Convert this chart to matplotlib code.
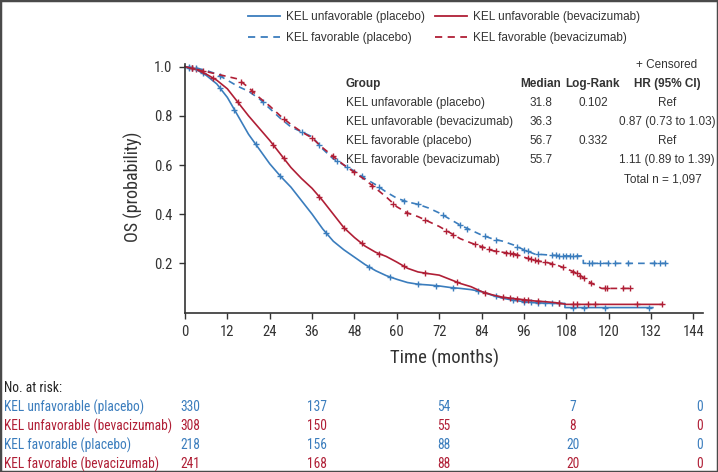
import matplotlib
matplotlib.use('Agg')
import matplotlib.pyplot as plt
import numpy as np
from matplotlib import font_manager
from matplotlib.lines import Line2D
from matplotlib.patches import Rectangle

# pick a condensed face for axis / risk-table text if one is installed
entries = font_manager.fontManager.ttflist
names = {f.name for f in entries}
SANS = 'Liberation Sans' if 'Liberation Sans' in names else 'DejaVu Sans'
NARROW = {'family': 'Roboto', 'stretch': 'normal'}
NARROW_SCALE = 0.9
for cand in ['Liberation Sans Narrow', 'Roboto Condensed', 'Open Sans Condensed']:
    if cand in names:
        NARROW = {'family': cand, 'stretch': 'normal'}
        NARROW_SCALE = 1.0
        break
else:
    if any(f.name == 'DejaVu Sans' and 'condensed' in str(f.stretch) for f in entries):
        NARROW = {'family': 'DejaVu Sans', 'stretch': 'condensed'}
        NARROW_SCALE = 0.9

BLUE = '#3b7dbd'
RED = '#b01f36'
INK = '#333333'

# --- data ---
groups = ['KEL unfavorable (placebo)', 'KEL unfavorable (bevacizumab)',
          'KEL favorable (placebo)', 'KEL favorable (bevacizumab)']

# KEL unfavorable (placebo)
t_up = [0, 3, 6, 9, 12, 15, 18, 21, 24, 27, 30, 33, 36, 39, 42, 45, 48, 51, 54, 57, 60,
        63, 66, 69, 72, 75, 78, 81, 84, 87, 90, 93, 96, 99, 102, 105, 107.6, 107.6, 132.5]
s_up = [1.0, 0.99, 0.965, 0.93, 0.875, 0.80, 0.725, 0.665, 0.605, 0.555, 0.51, 0.455, 0.40,
        0.34, 0.29, 0.255, 0.225, 0.195, 0.17, 0.15, 0.135, 0.122, 0.115, 0.112, 0.108, 0.102,
        0.098, 0.093, 0.085, 0.07, 0.058, 0.05, 0.044, 0.04, 0.038, 0.037, 0.037, 0.02, 0.02]
c_up = [1, 2, 5, 10, 14, 20, 27, 40, 52, 58, 66, 71, 76, 83, 88, 93, 96, 98, 100, 102, 104,
        106, 110, 113, 119, 131.5]

# KEL unfavorable (bevacizumab)
t_ub = [0, 3, 6, 9, 12, 15, 18, 21, 24, 27, 30, 33, 36, 39, 42, 45, 48, 51, 54, 57, 60,
        63, 66, 69, 72, 75, 78, 81, 84, 87, 90, 93, 96, 99, 102, 105, 108, 135]
s_ub = [1.0, 0.99, 0.97, 0.945, 0.91, 0.855, 0.80, 0.75, 0.70, 0.645, 0.59, 0.545, 0.505,
        0.455, 0.40, 0.345, 0.305, 0.27, 0.245, 0.228, 0.205, 0.18, 0.165, 0.158, 0.152, 0.135,
        0.118, 0.105, 0.085, 0.072, 0.062, 0.057, 0.052, 0.047, 0.044, 0.04, 0.033, 0.033]
c_ub = [2, 3, 8, 15, 25, 28, 38, 45, 50, 55, 62, 68, 77, 85, 90, 92, 94, 96, 97, 100, 106,
        110, 111, 114, 116, 128, 135]

# KEL favorable (placebo)
t_fp = [0, 3, 6, 9, 12, 15, 18, 21, 24, 27, 30, 33, 36, 39, 42, 45, 48, 51, 54, 57, 60,
        63, 66, 69, 72, 75, 78, 81, 84, 87, 90, 93, 96, 99, 102, 105, 108, 112.8, 112.8, 136.3]
s_fp = [1.0, 0.995, 0.985, 0.97, 0.945, 0.92, 0.90, 0.87, 0.83, 0.79, 0.755, 0.735, 0.715,
        0.665, 0.625, 0.60, 0.575, 0.545, 0.52, 0.49, 0.465, 0.45, 0.44, 0.425, 0.405, 0.38,
        0.355, 0.335, 0.315, 0.30, 0.29, 0.275, 0.255, 0.238, 0.235, 0.232, 0.23, 0.23, 0.2, 0.2]
c_fp = [1, 3, 10, 22, 33, 38, 43, 46, 50, 55, 62, 66, 73, 78, 80, 85, 88, 94, 96, 97, 100,
        104, 105, 106, 107, 108, 109, 110, 111, 114.3, 115.2, 117.6, 119.9, 121.8, 125.6,
        132.7, 134.6, 136]

# KEL favorable (bevacizumab)
t_fb = [0, 3, 6, 9, 12, 15, 18, 21, 24, 27, 30, 33, 36, 39, 42, 45, 48, 51, 54, 57, 60,
        63, 66, 69, 72, 75, 78, 81, 84, 87, 90, 93, 96, 99, 102, 105, 108, 111, 113, 115,
        118, 127]
s_fb = [1.0, 0.99, 0.98, 0.97, 0.96, 0.95, 0.915, 0.875, 0.84, 0.80, 0.765, 0.735, 0.71,
        0.67, 0.635, 0.60, 0.57, 0.54, 0.505, 0.47, 0.43, 0.405, 0.39, 0.37, 0.35, 0.325,
        0.30, 0.283, 0.268, 0.252, 0.245, 0.24, 0.225, 0.212, 0.205, 0.195, 0.178, 0.16,
        0.14, 0.12, 0.098, 0.098]
c_fb = [2, 5, 16, 19, 28, 36, 42, 48, 53, 59, 63, 68, 74, 76, 82, 84, 86, 88, 91, 92, 93,
        94, 97, 98, 99, 100, 102, 104, 107, 110, 111, 112, 113, 115, 119, 119.5, 124, 126]

medians = ['31.8', '36.3', '56.7', '55.7']
logrank = ['0.102', '', '0.332', '']
hrs = ['Ref', '0.87 (0.73 to 1.03)', 'Ref', '1.11 (0.89 to 1.39)']

risk_up = [330, 137, 54, 7, 0]
risk_ub = [308, 150, 55, 8, 0]
risk_fp = [218, 156, 88, 20, 0]
risk_fb = [241, 168, 88, 20, 0]

x_ticks = list(range(0, 145, 12))
y_ticks = [0.2, 0.4, 0.6, 0.8, 1.0]

# --- figure ---
W, H = 718, 472
fig = plt.figure(figsize=(W / 100, H / 100), dpi=100)


def fx(px):
    return px / W


def fy(py):
    return 1 - py / H


ax = fig.add_axes([fx(185), fy(312.5), fx(703) - fx(185), fy(64) - fy(312.5)])
ax.set_xlim(0, 146.7)
ax.set_ylim(0, 1.011)

series = [
    (t_up, s_up, c_up, BLUE, '-'),
    (t_ub, s_ub, c_ub, RED, '-'),
    (t_fp, s_fp, c_fp, BLUE, (0, (4, 3))),
    (t_fb, s_fb, c_fb, RED, (0, (4, 3))),
]
handles = []
for t, s, c, col, ls in series:
    ax.plot(t, s, color=col, lw=1.2, ls=ls, clip_on=False)
    cy = np.interp(c, t, s)
    ax.plot(c, cy, ls='none', marker='+', ms=5, mew=1.0, color=col, clip_on=False)
    handles.append(Line2D([], [], color=col, lw=1.3, ls=ls))

for side in ['top', 'right']:
    ax.spines[side].set_visible(False)
for side in ['left', 'bottom']:
    ax.spines[side].set_color(INK)
    ax.spines[side].set_linewidth(1.2)
ax.set_xticks(x_ticks)
ax.set_yticks(y_ticks)
ax.set_yticklabels([f'{v:.1f}' for v in y_ticks])
ax.tick_params(direction='out', length=4, width=1.0, color=INK, labelcolor=INK,
               labelsize=10.5 * NARROW_SCALE, pad=5)
for lab in ax.get_xticklabels() + ax.get_yticklabels():
    lab.set_fontfamily(NARROW['family'])
    lab.set_fontstretch(NARROW['stretch'])

fig.text(fx(444), fy(358), 'Time (months)', ha='center', va='center',
         fontsize=13.5 * NARROW_SCALE, color=INK, **NARROW)
fig.text(fx(133), fy(187), 'OS (probability)', ha='center', va='center', rotation=90,
         fontsize=13 * NARROW_SCALE, color=INK, **NARROW)

# legend
order = [0, 2, 1, 3]
fig.legend([handles[i] for i in order], [groups[i] for i in order], ncol=2,
           loc='upper left', bbox_to_anchor=(fx(248), fy(11)), frameon=False,
           prop={'family': SANS, 'size': 8.5}, handlelength=2.7, handletextpad=0.5,
           columnspacing=0.9, labelspacing=0.75, borderpad=0, borderaxespad=0,
           labelcolor=INK)

# stats table
fs = 8.5
fig.text(fx(697), fy(65), '+ Censored', ha='right', va='center', fontsize=fs, family=SANS, color=INK)
hy = 84
fig.text(fx(346), fy(hy), 'Group', ha='left', va='center', fontsize=fs, family=SANS,
         weight='bold', color=INK)
fig.text(fx(541), fy(hy), 'Median', ha='center', va='center', fontsize=fs, family=SANS,
         weight='bold', color=INK)
fig.text(fx(593), fy(hy), 'Log-Rank', ha='center', va='center', fontsize=fs, family=SANS,
         weight='bold', color=INK)
fig.text(fx(667), fy(hy), 'HR (95% CI)', ha='center', va='center', fontsize=fs, family=SANS,
         weight='bold', color=INK)
for i, g in enumerate(groups):
    ry = 103 + i * 19
    fig.text(fx(346), fy(ry), g, ha='left', va='center', fontsize=fs, family=SANS, color=INK)
    fig.text(fx(541), fy(ry), medians[i], ha='center', va='center', fontsize=fs, family=SANS, color=INK)
    fig.text(fx(593), fy(ry), logrank[i], ha='center', va='center', fontsize=fs, family=SANS, color=INK)
    fig.text(fx(667), fy(ry), hrs[i], ha='center', va='center', fontsize=fs, family=SANS, color=INK)
fig.text(fx(702), fy(179), 'Total n = 1,097', ha='right', va='center', fontsize=fs,
         family=SANS, color=INK)

# number at risk
risk_x = [190, 317, 444, 573, 700]
rfs = 9.75 * NARROW_SCALE
fig.text(fx(4), fy(388), 'No. at risk:', ha='left', va='center', fontsize=rfs,
         color='#222222', **NARROW)
risk_rows = [risk_up, risk_ub, risk_fp, risk_fb]
risk_cols = [BLUE, RED, BLUE, RED]
for i, (g, row, col) in enumerate(zip(groups, risk_rows, risk_cols)):
    ry = 407 + i * 19
    fig.text(fx(4), fy(ry), g, ha='left', va='center', fontsize=rfs, color=col, **NARROW)
    for xp, n in zip(risk_x, row):
        fig.text(fx(xp), fy(ry), str(n), ha='center', va='center', fontsize=rfs,
                 color=col, **NARROW)

fig.patches.append(Rectangle((0, 0), 1, 1, transform=fig.transFigure, fill=False,
                             lw=2.5, ec='#4a4a4a'))

fig.savefig('out.png', dpi=100)
